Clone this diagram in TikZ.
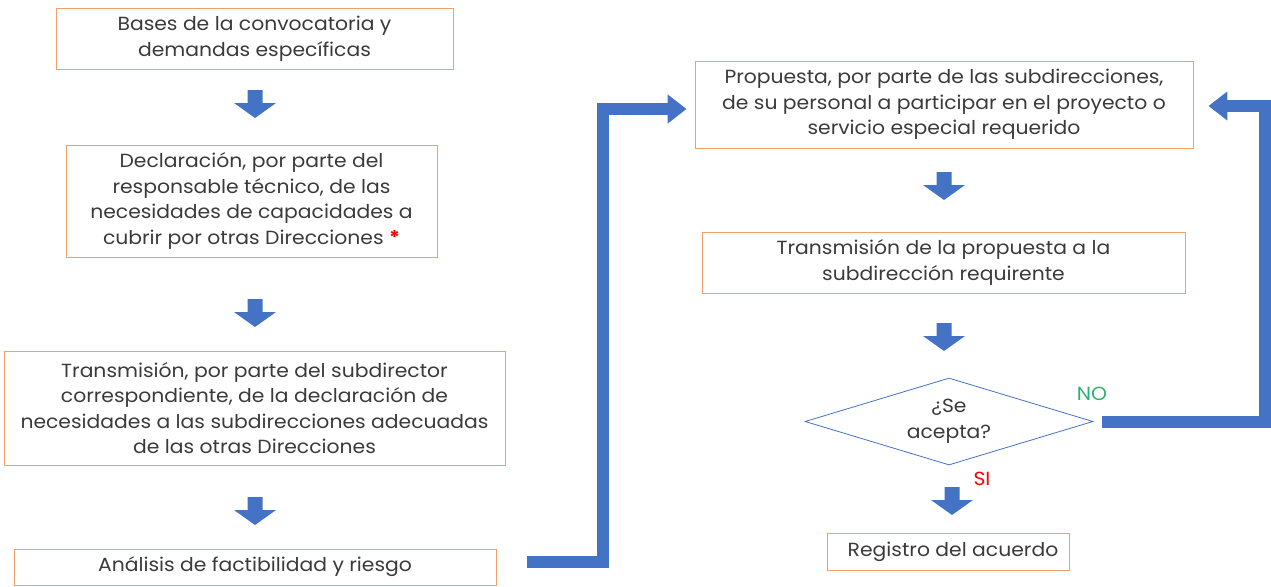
\documentclass[tikz,border=0pt]{standalone}
\usepackage{fontspec}
\setmainfont[FakeStretch=1.07]{Poppins}
\usetikzlibrary{shapes.geometric,arrows.meta,calc}
\definecolor{boxorange}{RGB}{244,160,100}
\definecolor{arrowblue}{RGB}{68,114,196}
\definecolor{txtgray}{RGB}{58,58,58}
\definecolor{nogreen}{RGB}{40,180,110}
\begin{document}
\begin{tikzpicture}[x=1pt,y=-1pt,
  every node/.style={font=\fontsize{19}{25.5}\selectfont, text=txtgray},
  stepbox/.style={draw=boxorange, line width=0.9pt, align=center, inner sep=0pt},
  decbox/.style={draw=arrowblue, line width=0.8pt, diamond, aspect=3.31, minimum width=288pt, minimum height=87pt, inner sep=0pt, align=center},
  bigarrow/.style={draw=arrowblue, line width=12pt, line join=miter, -{Triangle[width=28pt,length=19pt]}},
  darrow/.pic={\fill[arrowblue] (-7.5,0) -- (7.5,0) -- (7.5,13) -- (21,13) -- (0,28) -- (-21,13) -- (-7.5,13) -- cycle;}
]
\useasboundingbox (0,0) rectangle (1271,586);

\node[stepbox, minimum width=397pt, minimum height=61pt] (bases) at (254.5,38.5) {Bases de la convocatoria y\\demandas específicas};
\node[stepbox, minimum width=371pt, minimum height=112pt] (decl) at (251.5,201) {Declaración, por parte del\\responsable técnico, de las\\necesidades de capacidades a\\cubrir por otras Direcciones \textcolor{red}{\textbf{*}}};
\node[stepbox, minimum width=501pt, minimum height=114pt] (trans) at (254.5,408) {Transmisión, por parte del subdirector\\correspondiente, de la declaración de\\necesidades a las subdirecciones adecuadas\\de las otras Direcciones};
\node[stepbox, minimum width=482pt, minimum height=36pt] (ana) at (255,567) {Análisis de factibilidad y riesgo};

\node[stepbox, minimum width=498pt, minimum height=87pt] (prop) at (944,104.5) {Propuesta, por parte de las subdirecciones,\\de su personal a participar en el proyecto o\\servicio especial requerido};
\node[stepbox, minimum width=483pt, minimum height=61pt] (tprop) at (943.5,262.5) {Transmisión de la propuesta a la\\subdirección requirente};
\node[decbox] (dec) at (949,421.5) {¿Se\\acepta?};
\node[stepbox, minimum width=242pt, minimum height=37pt] (reg) at (948,551.5) {\hspace*{10pt}Registro del acuerdo};

\pic at (255,90) {darrow};
\pic at (255,299) {darrow};
\pic at (255,497) {darrow};
\pic at (944,172) {darrow};
\pic at (944,323) {darrow};
\pic at (952,487) {darrow};

\draw[bigarrow] ($(ana.east)+(31,-5)$) -| (603,109) -- ($(prop.west)+(-8,4.5)$);
\draw[bigarrow] ($(dec.east)+(9,0.5)$) -| (1265,106) -- ($(prop.east)+(15,1.5)$);

\node[text=nogreen] (no) at (1092,394) {NO};
\node[text=red] (si) at (982,479) {SI};
\end{tikzpicture}
\end{document}
